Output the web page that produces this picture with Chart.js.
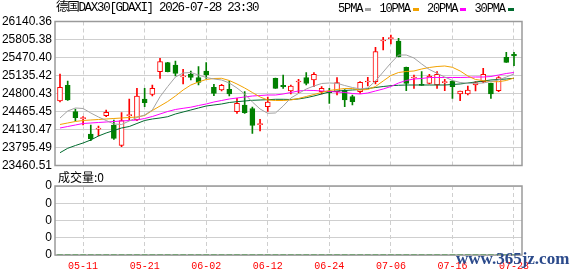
<!DOCTYPE html>
<html><head><meta charset="utf-8">
<script src="https://cdn.jsdelivr.net/npm/chart.js@4.4.1/dist/chart.umd.min.js"></script>
<style>
html,body{margin:0;padding:0;background:#fff;}
#wrap{position:relative;width:578px;height:276px;overflow:hidden;background:#fff;}
#mainBox{position:absolute;left:0;top:0;width:578px;height:178px;}
#volBox{position:absolute;left:0;top:170px;width:578px;height:106px;}
.txt{position:absolute;white-space:nowrap;color:#000;}
#title{left:56px;top:1px;font-size:12.5px;font-family:"Liberation Mono","Noto Sans CJK SC";letter-spacing:-1.3px;line-height:15px;}
#legend{left:338px;top:2px;display:flex;align-items:center;font-size:12px;font-family:"Liberation Mono";letter-spacing:-1.1px;line-height:14px;}
.mk{display:inline-block;width:6px;height:3px;margin:0 8px 0 3px;}
#volLabel{left:58px;top:170px;font-size:12px;font-family:"Noto Sans CJK SC";line-height:14px;}
#wm{left:456px;top:249px;font:bold 17px "Liberation Serif";color:#2b4a8b;}
</style></head>
<body>
<div id="wrap">
  <div id="mainBox"><canvas id="main"></canvas></div>
  <div id="volBox"><canvas id="vol"></canvas></div>
  <div class="txt" id="title"></div>
  <div class="txt" id="legend"></div>
  <div class="txt" id="volLabel"></div>
  <div class="txt" id="wm">www.365jz.com</div>
</div>
<script>
// ---------------- data ----------------
const chartTitle = '德国DAX30[GDAXI] 2026-07-28 23:30';
const volumeTitle = '成交量:0';
const dates = ['05-06','05-07','05-08','05-11','05-12','05-13','05-14','05-15','05-18','05-19',
 '05-20','05-21','05-22','05-25','05-26','05-27','05-28','05-29','06-01','06-02',
 '06-03','06-04','06-05','06-08','06-09','06-10','06-11','06-12','06-15','06-16',
 '06-17','06-18','06-19','06-22','06-23','06-24','06-25','06-26','06-29','06-30',
 '07-01','07-02','07-03','07-06','07-07','07-08','07-09','07-10','07-13','07-14',
 '07-15','07-16','07-17','07-20','07-21','07-22','07-23','07-24','07-27','07-28'];
const xTickLabels = ['05-11','05-21','06-02','06-12','06-24','07-06','07-16','07-28'];
const yTickValues = [23460.51,23795.49,24130.47,24465.45,24800.43,25135.42,25470.40,25805.38,26140.36];
const yTickLabels = ['23460.51','23795.49','24130.47','24465.45','24800.43','25135.42','25470.40','25805.38','26140.36'];
const volTickLabels = ['0','0','0','0','0'];

const openV = [24660.9,24953.1,24461.8,24331.5,24046.8,24136.1,24387.3,24214.2,23832.7,24387.3,
 24307.3,24698.1,24785.6,25206.2,25373.7,25330.8,25111.3,25157.8,25094.5,25219.2,
 24915.8,24865.6,24878.6,24461.8,24586.5,24521.3,24219.8,24554.8,25083.3,24953.1,
 24847.0,25014.5,25094.5,25051.7,24834.0,24847.0,24834.0,24865.6,24740.9,24834.0,
 25014.5,25020.1,25777.5,25820.3,25777.5,25288.0,25088.9,24968.0,24990.3,24958.6,
 25001.5,25033.1,24791.2,24791.2,24958.6,25020.1,24990.3,24852.6,25474.1,25530.0];
const highV = [25163.4,25033.1,24512.0,24368.7,24214.2,24195.6,24493.4,24307.3,24443.2,24698.1,
 24897.2,24897.2,24958.6,25455.5,25381.1,25405.3,25250.8,25219.2,25299.2,25373.7,
 24971.7,24971.7,25033.1,24711.1,24834.0,24549.2,24320.3,24735.3,25088.9,25144.7,
 24958.6,25064.7,25187.5,25187.5,24927.0,24897.2,25094.5,24874.9,24772.5,25020.1,
 25101.9,25660.2,25846.3,25889.1,25827.7,25293.6,25144.7,25206.2,25157.8,25206.2,
 25064.7,25038.7,24847.0,24940.0,25020.1,25269.4,24995.9,25113.1,25567.2,25567.2];
const lowV = [24642.3,24670.2,24288.7,24214.2,23922.1,24009.5,24368.7,23948.1,23810.5,24307.3,
 24294.3,24554.8,24753.9,25083.3,25200.6,25126.1,24977.3,25051.7,24958.6,25083.3,
 24759.5,24847.0,24753.9,24432.0,24432.0,24059.8,24102.6,24469.2,24893.5,24897.2,
 24791.2,24815.3,24958.6,24927.0,24791.2,24618.1,24772.5,24554.8,24586.5,24804.2,
 24940.0,24977.3,25610.0,25721.7,25479.7,24852.6,24897.2,24949.3,24977.3,24897.2,
 24852.6,24711.1,24666.5,24772.5,24847.0,25001.5,24711.1,24834.0,25377.4,25317.8];
const closeV = [24915.8,24679.5,24350.1,24338.9,23953.7,24143.5,24450.6,23966.7,24294.3,24394.8,
 24753.9,24629.3,24897.2,25392.3,25206.2,25176.4,25118.7,25101.9,25008.9,25144.7,
 24804.2,24953.1,24791.2,24618.1,24443.2,24204.9,24227.3,24642.3,24897.2,24927.0,
 24940.0,25023.8,24990.3,25157.8,24897.2,24815.3,25001.5,24679.5,24647.9,25008.9,
 25023.8,25578.4,25786.8,25829.6,25485.3,24990.3,25098.2,24953.1,25126.1,25157.8,
 25010.8,24927.0,24847.0,24865.6,25001.5,25157.8,24791.2,25094.5,25381.1,25498.3];
const volumeV = dates.map(() => 0);

const maLabels = ['5PMA','10PMA','20PMA','30PMA'];
const ma5 = [24344.5,24474.8,24530.6,24521.3,24437.6,24363.1,24298.0,24232.9,24223.6,24288.7,
 24353.8,24400.3,24493.4,24740.0,24930.0,25107.5,25182.0,25191.3,25144.7,25098.2,
 25070.3,25051.7,24995.9,24902.8,24791.2,24642.3,24512.0,24432.0,24437.6,24567.8,
 24716.7,24800.5,24884.2,24940.0,24986.5,24995.9,24990.3,24949.3,24912.1,24884.2,
 24902.8,25033.1,25200.6,25368.1,25516.9,25516.9,25461.1,25349.5,25247.1,25176.4,
 25107.5,25042.4,25005.2,24990.3,24990.3,24995.9,25023.8,25051.7,25107.5,25163.4];
const ma10 = [24223.6,24251.5,24279.4,24298.0,24307.3,24316.6,24325.9,24335.2,24344.5,24353.8,
 24363.1,24391.0,24484.1,24567.8,24651.6,24753.9,24865.6,24958.6,25014.5,25061.0,
 25079.6,25083.3,25042.4,24977.3,24902.8,24819.1,24735.3,24679.5,24670.2,24670.2,
 24679.5,24707.4,24744.6,24781.9,24819.1,24856.3,24874.9,24893.5,24893.5,24865.6,
 24874.9,24930.7,25033.1,25135.4,25191.3,25209.9,25219.2,25256.4,25284.3,25302.9,
 25312.2,25288.0,25219.2,25126.1,25061.0,25038.7,25020.1,25020.1,25042.4,25088.9];
const ma20 = [24158.4,24186.3,24214.2,24242.2,24251.5,24260.8,24270.1,24279.4,24288.7,24298.0,
 24307.3,24335.2,24372.4,24419.0,24465.5,24502.7,24525.0,24545.5,24577.1,24605.1,
 24642.3,24670.2,24698.1,24716.7,24735.3,24753.9,24763.2,24772.5,24772.5,24791.2,
 24819.1,24847.0,24860.0,24856.3,24847.0,24837.7,24828.4,24819.1,24800.5,24791.2,
 24809.8,24847.0,24884.2,24930.7,24995.9,25042.4,25070.3,25079.6,25098.2,25098.2,
 25098.2,25098.2,25098.2,25101.9,25107.5,25107.5,25116.8,25144.7,25172.7,25191.3];
const ma30 = [23698.7,23780.6,23832.7,23879.3,23935.1,24009.5,24065.4,24111.9,24158.4,24186.3,
 24242.2,24298.0,24325.9,24344.5,24368.7,24419.0,24456.2,24493.4,24530.6,24567.8,
 24586.5,24605.1,24633.0,24647.9,24660.9,24673.9,24679.5,24685.1,24692.5,24692.5,
 24688.8,24698.1,24722.3,24753.9,24791.2,24828.4,24847.0,24856.3,24865.6,24874.9,
 24893.5,24912.1,24930.7,24945.6,24953.1,24958.6,24958.6,24958.6,24958.6,24958.6,
 24958.6,24968.0,24977.3,24995.9,25014.5,25033.1,25051.7,25061.0,25070.3,25083.3];

// ---------------- styles ----------------
const maSeries = [ma5, ma10, ma20, ma30];
const maColors = ['#a3a3a3','#f2a200','#ff00ff','#006b2e'];
const RED = '#ff0000', GREEN = '#008000';
const X_MIN = -0.65, X_MAX = 60.04;
const GRID = '#cfcfcf';
const isUp = i => closeV[i] >= openV[i];
const tickIdx = xTickLabels.map(l => dates.indexOf(l));

document.getElementById('title').textContent = chartTitle;
document.getElementById('volLabel').textContent = volumeTitle;
const lg = document.getElementById('legend');
maLabels.forEach((l, k) => {
  const s = document.createElement('span'); s.textContent = l; lg.appendChild(s);
  const m = document.createElement('span'); m.className = 'mk'; m.style.background = maColors[k]; lg.appendChild(m);
});

const frame = {
  id: 'frame',
  beforeDatasetsDraw(chart) {
    const {ctx, chartArea: a} = chart;
    ctx.save();
    ctx.strokeStyle = '#9a9a9a';
    ctx.lineWidth = 1.5;
    ctx.strokeRect(a.left, a.top, a.right - a.left, a.bottom - a.top);
    ctx.restore();
  }
};

const xScaleBase = (showLabels) => ({
  type: 'linear', min: X_MIN, max: X_MAX, offset: false,
  afterBuildTicks: s => { s.ticks = tickIdx.map(v => ({value: v})); },
  grid: {color: GRID, lineWidth: 1, drawTicks: false, offset: false},
  border: {display: false, dash: [4, 3]},
  ticks: showLabels ? {
    display: true, autoSkip: false, maxRotation: 0, padding: 5,
    color: '#ff0000', font: {family: 'Liberation Mono', size: 10},
    callback: (v, i) => xTickLabels[i]
  } : {display: false}
});

Chart.defaults.animation = false;

new Chart(document.getElementById('main'), {
  data: {
    datasets: [
      ...maSeries.map((arr, k) => ({
        type: 'line', label: maLabels[k],
        data: arr.map((v, i) => ({x: i, y: v})),
        borderColor: maColors[k], borderWidth: 1, pointRadius: 0, tension: 0, order: 0
      })),
      {
        type: 'bar', label: 'body',
        data: dates.map((d, i) => ({x: i, y: [openV[i], closeV[i]]})),
        backgroundColor: c => isUp(c.dataIndex) ? '#ffffff' : GREEN,
        borderColor: c => isUp(c.dataIndex) ? RED : GREEN,
        borderWidth: 1, borderSkipped: false, barThickness: 5, minBarLength: 1,
        grouped: false, order: 1
      },
      {
        type: 'bar', label: 'wick',
        data: dates.map((d, i) => ({x: i, y: [lowV[i], highV[i]]})),
        backgroundColor: c => isUp(c.dataIndex) ? RED : GREEN,
        borderWidth: 0, barThickness: 1, grouped: false, order: 2
      }
    ]
  },
  options: {
    responsive: true, maintainAspectRatio: false, animation: false,
    layout: {padding: {top: 21.5, right: 56, bottom: 12.5, left: 0}},
    plugins: {legend: {display: false}, tooltip: {enabled: false}},
    scales: {
      x: Object.assign(xScaleBase(false), {afterFit: s => { s.height = 0; }}),
      y: {
        min: yTickValues[0], max: yTickValues[yTickValues.length - 1],
        afterBuildTicks: s => { s.ticks = yTickValues.map(v => ({value: v})); },
        afterFit: s => { s.width = 55; },
        grid: {color: GRID, lineWidth: 1, drawTicks: false},
        border: {display: false},
        ticks: {autoSkip: false, padding: 3, color: '#000',
          font: {family: 'Liberation Sans', size: 12},
          callback: (v, i) => yTickLabels[i]}
      }
    }
  },
  plugins: [frame]
});

new Chart(document.getElementById('vol'), {
  data: {
    datasets: [{
      type: 'bar', label: 'volume',
      data: volumeV.map((v, i) => ({x: i, y: v})),
      backgroundColor: GREEN, barThickness: 5
    }]
  },
  options: {
    responsive: true, maintainAspectRatio: false, animation: false,
    layout: {padding: {top: 16, right: 56, bottom: 0, left: 0}},
    plugins: {legend: {display: false}, tooltip: {enabled: false}},
    scales: {
      x: Object.assign(xScaleBase(true), {afterFit: s => { s.height = 21; }}),
      y: {
        min: 0, max: 1,
        afterBuildTicks: s => { s.ticks = volTickLabels.map((l, i) => ({value: i / (volTickLabels.length - 1)})); },
        afterFit: s => { s.width = 55; },
        grid: {color: GRID, lineWidth: 1, drawTicks: false},
        border: {display: false},
        ticks: {autoSkip: false, padding: 3, color: '#000',
          font: {family: 'Liberation Sans', size: 12},
          callback: (v, i) => volTickLabels[i]}
      }
    }
  },
  plugins: [frame]
});
</script>
</body></html>
